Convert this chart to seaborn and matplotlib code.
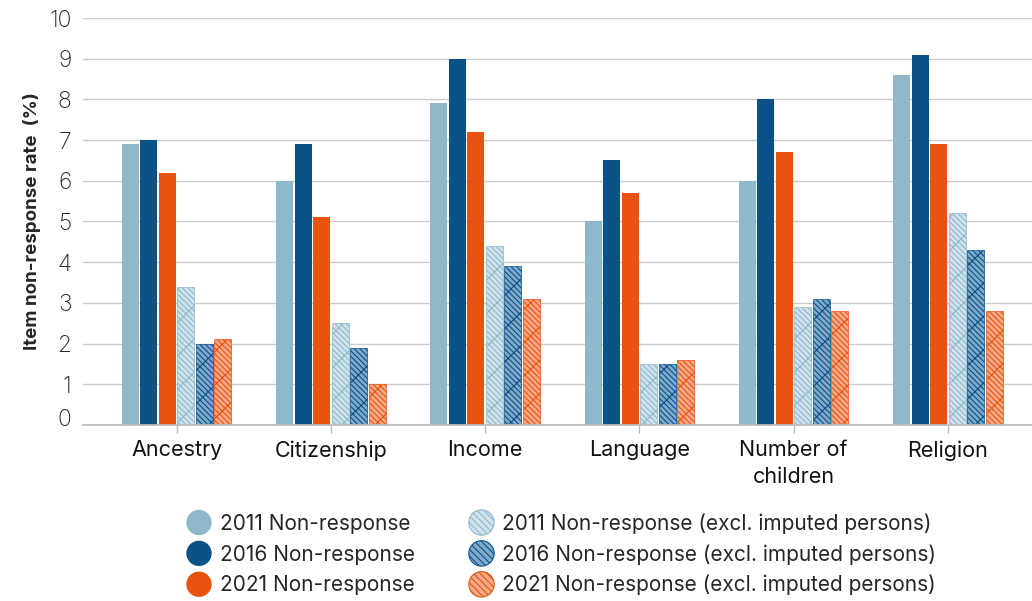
import matplotlib
matplotlib.use("Agg")
import matplotlib.pyplot as plt
import matplotlib.patches as mpatches
import matplotlib.transforms as mtransforms
from matplotlib.legend_handler import HandlerPatch
import seaborn as sns
import pandas as pd

categories = ["Ancestry", "Citizenship", "Income", "Language", "Number of\nchildren", "Religion"]
series = ["2011 Non-response", "2016 Non-response", "2021 Non-response",
          "2011 Non-response (excl. imputed persons)",
          "2016 Non-response (excl. imputed persons)",
          "2021 Non-response (excl. imputed persons)"]
nr_2011 = [6.9, 6.0, 7.9, 5.0, 6.0, 8.6]
nr_2016 = [7.0, 6.9, 9.0, 6.5, 8.0, 9.1]
nr_2021 = [6.2, 5.1, 7.2, 5.7, 6.7, 6.9]
ex_2011 = [3.4, 2.5, 4.4, 1.5, 2.9, 5.2]
ex_2016 = [2.0, 1.9, 3.9, 1.5, 3.1, 4.3]
ex_2021 = [2.1, 1.0, 3.1, 1.6, 2.8, 2.8]
values = [nr_2011, nr_2016, nr_2021, ex_2011, ex_2016, ex_2021]

fills = ["#8fb8cb", "#0b5289", "#e8540f", "#cfe3ec", "#7fa9c9", "#f5a988"]
hatch_cols = [None, None, None, "#8fb8cb", "#0b5289", "#e8540f"]

rows = []
for s, vals in zip(series, values):
    for c, v in zip(categories, vals):
        rows.append({"category": c, "series": s, "value": v})
df = pd.DataFrame(rows)

sns.set_theme(style="white")
plt.rcParams["font.family"] = ["Inter", "DejaVu Sans"]
plt.rcParams["hatch.linewidth"] = 0.8

fig = plt.figure(figsize=(10.32, 6.01), dpi=100)
ax = fig.add_axes([0.080, 0.293, 0.920, 0.677])

sns.barplot(data=df, x="category", y="value", hue="series", hue_order=series,
            order=categories, palette=fills, width=0.72, ax=ax, legend=False,
            saturation=1)

for i, cont in enumerate(ax.containers):
    for bar in cont:
        x0 = bar.get_x()
        w = bar.get_width()
        bar.set_x(x0 + w * 0.04)
        bar.set_width(w * 0.92)
        if hatch_cols[i] is not None:
            bar.set_hatch("x" + "\\" * 5)
            bar.set_edgecolor(hatch_cols[i])
            bar.set_linewidth(0.5)
        else:
            bar.set_edgecolor("none")

ax.set_ylim(0, 10)
ax.set_yticks(range(0, 11))
ax.set_xlim(-0.61, 5.545)
ax.yaxis.grid(True, color="#cccccc", linewidth=1)
ax.set_axisbelow(True)
for sp in ["top", "right", "left"]:
    ax.spines[sp].set_visible(False)
ax.spines["bottom"].set_color("#bbbbbb")
ax.tick_params(axis="y", length=0, labelsize=16.5, pad=8, labelcolor="#222222")
ax.tick_params(axis="x", length=6, color="#bbbbbb", bottom=True, labelsize=15.5,
               labelcolor="#111111", pad=5, width=1)
for lab in ax.get_yticklabels():
    lab.set_fontweight("light")
# the "0" label sits slightly above the baseline in the reference
ylabs = ax.get_yticklabels()
ylabs[0].set_transform(ylabs[0].get_transform() +
                       mtransforms.ScaledTranslation(0, 7 / 100, fig.dpi_scale_trans))
for lab in ax.get_xticklabels():
    lab.set_linespacing(1.45)
ax.set_xlabel("")
ax.set_ylabel("Item non-response rate  (%)", fontsize=13.5, fontweight="bold", labelpad=6)


def make_circle(legend, orig_handle, xdescent, ydescent, width, height, fontsize):
    r = height * 0.68
    return mpatches.Circle((width / 2 - xdescent, height / 2 - ydescent), r)


handles = []
for i, s in enumerate(series):
    if hatch_cols[i] is None:
        handles.append(mpatches.Patch(facecolor=fills[i], edgecolor="none", label=s))
    else:
        handles.append(mpatches.Patch(facecolor=fills[i], edgecolor=hatch_cols[i],
                                      hatch="\\" * 5, linewidth=0.8, label=s))

fig.legend(handles=handles, loc="lower center", bbox_to_anchor=(0.544, -0.022), ncol=2,
           frameon=False, fontsize=15, handlelength=1.2, handleheight=1.0,
           handletextpad=0.4, columnspacing=2.6, labelspacing=0.5,
           handler_map={mpatches.Patch: HandlerPatch(patch_func=make_circle)})

fig.savefig("out.png", dpi=100)
